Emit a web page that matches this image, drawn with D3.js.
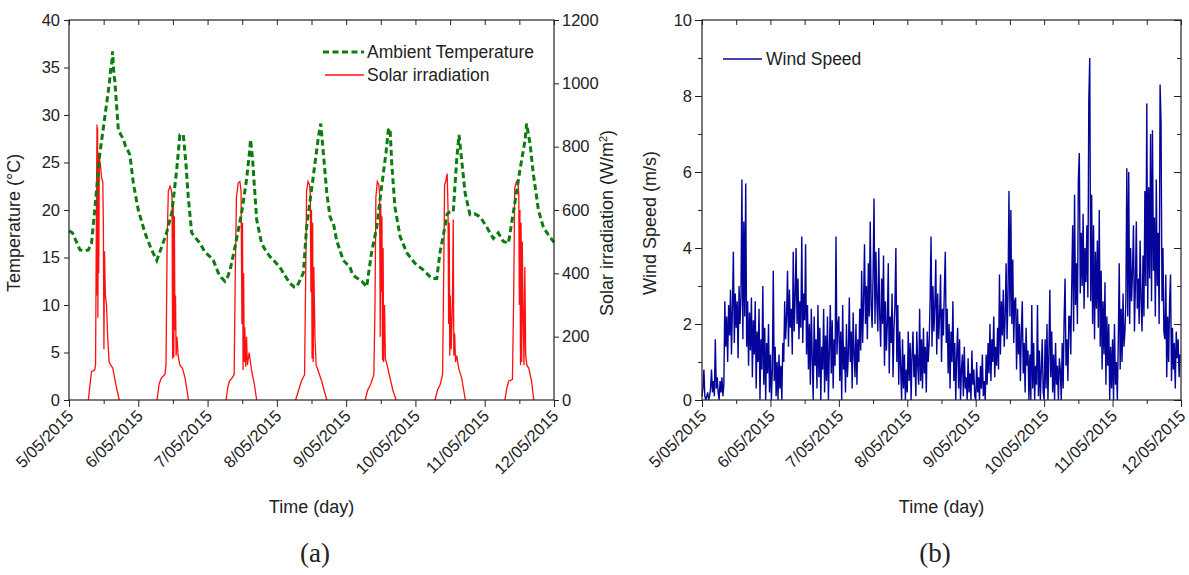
<!DOCTYPE html>
<head>
<meta charset="utf-8">
<title>Ambient temperature, solar irradiation and wind speed, 5-12 May 2015</title>
<style>
  body { margin: 0; background: #fff; }
  svg text { font-family: Arial, "Liberation Sans", sans-serif; fill: #222; }
</style>
</head>
<body>
<svg width="1189" height="575"></svg>
<script src="https://cdn.jsdelivr.net/npm/d3@7/dist/d3.min.js"></script>
<script>

// x axis: hours from 5/05/2015 00:00, one label per day
var dayLabels = ["5/05/2015", "6/05/2015", "7/05/2015", "8/05/2015",
                 "9/05/2015", "10/05/2015", "11/05/2015", "12/05/2015"];

// ambient temperature (degC), [hour, value]
var tempSeries = [
  [0,17.8],[1.2,17.6],[3.8,15.8],[5.5,15.7],[6.7,15.8],[7.8,16.5],[9.0,20.3],[10.7,26],[12.5,30],
  [14,33.4],[14.5,35],[14.8,35.4],[15.1,36.7],[15.5,34.5],[15.9,33.5],[17.1,28.4],[18.0,27.9],
  [18.8,27.5],[19.6,26.7],[20.5,26.2],[21.1,25.8],[22.3,22.8],[24,20],[26.3,17.6],[28.6,15.8],
  [30.4,14.7],[32.1,16.1],[33.8,17.6],[35.6,19.7],[37.3,24.2],[38.4,27.9],[39.6,27.9],[40.5,24.9],
  [41.3,21.4],[42.5,17.6],[44.0,17.0],[45.4,16.5],[47.0,15.6],[48.8,15.1],[50,14.7],[51.7,13.4],
  [53.0,12.8],[54,12.5],[55.0,13.0],[55.8,13.7],[57.5,16.1],[59.8,19.7],[61.5,23.2],[62.5,26],
  [62.9,27.4],[63.6,25.3],[65,19],[66.7,16.5],[68,15.8],[69.6,15.1],[71.5,14.5],[73,14],[74.8,13.1],
  [76.5,12.3],[78.0,11.9],[78.9,11.9],[80,12.6],[81.2,13.4],[82.3,18.2],[84.6,23.5],[86.4,27.7],
  [87.2,29.1],[88.1,26],[89.3,21.8],[90.4,19.3],[91,18.9],[91.6,18.6],[92.7,16.8],[95,14.7],
  [97.3,14],[98.2,13.2],[99,13],[101.4,12.5],[102.3,12.2],[103.1,11.9],[104.8,15.5],[106.6,18.2],
  [108.3,22.5],[109.8,26],[110.6,28.4],[111.2,28.6],[111.8,24.9],[112.9,20.3],[114.7,17.2],
  [117,15.5],[119.8,14.4],[122.7,13.7],[125.6,12.8],[127.4,12.8],[128.5,15.5],[130.2,18.2],
  [131,19.6],[132,19.8],[133.1,19.8],[134.3,25.3],[135.1,27.9],[136,25.3],[137.2,21.8],[138.9,19.5],
  [140.5,19.6],[142.4,19.3],[144.7,18.2],[146,17.5],[147,17],[148.7,17.6],[150.4,16.7],[152.2,16.5],
  [153.9,19.7],[156.2,24.2],[158,27.4],[158.5,29.1],[159.7,27],[160.8,23.9],[162.6,20],[164.3,18.2],
  [166,17.4],[168,16.6]
];

// solar irradiation (W/m2), one [hour, value] list per day
var solarDays = [
  [[6.7,0],[7.3,50],[7.8,90],[8.3,92],[8.9,95],[9.2,110],[9.5,600],[9.7,870],[9.8,330],[9.9,860],
   [10.0,260],[10.2,780],[10.3,400],[10.5,765],[10.9,740],[11.3,700],[11.7,690],[11.9,560],[12.1,160],
   [12.3,470],[12.6,330],[13.0,300],[13.4,200],[13.9,120],[14.5,110],[15.2,100],[16.2,50],[17.4,0]],
  [[30.5,0],[31.2,50],[32.0,70],[33.2,80],[33.6,110],[34.0,500],[34.4,660],[35.0,675],[35.4,665],
   [35.7,640],[35.9,130],[36.1,610],[36.3,135],[36.5,580],[36.7,220],[36.9,330],[37.1,140],[37.4,200],
   [37.8,140],[38.4,110],[39.3,100],[40.2,70],[41.4,0]],
  [[54.4,0],[55.0,40],[55.6,60],[56.5,70],[57.2,80],[57.6,400],[58.0,640],[58.6,685],[59.2,690],
   [59.6,660],[59.9,240],[60.1,560],[60.3,95],[60.5,400],[60.7,120],[60.9,230],[61.2,105],[61.5,200],
   [61.8,110],[62.4,150],[63.3,90],[64.2,50],[65.0,0]],
  [[78.5,0],[79.5,30],[80.5,60],[81.6,80],[82.0,400],[82.3,660],[82.8,690],[83.3,680],[83.6,650],
   [83.8,340],[84.0,600],[84.2,130],[84.4,560],[84.6,120],[84.8,420],[85.2,200],[85.6,110],[86.4,90],
   [87.5,60],[88.4,30],[89.3,0]],
  [[102.6,0],[103.4,30],[104.5,50],[105.6,80],[106.0,300],[106.3,640],[106.8,690],[107.3,680],
   [107.6,650],[107.8,200],[108.0,620],[108.2,340],[108.4,580],[108.6,125],[108.8,480],[109.0,120],
   [109.3,300],[109.6,130],[110.2,110],[111.2,70],[112.2,30],[113.3,0]],
  [[126.8,0],[127.6,30],[128.6,50],[129.4,80],[129.8,400],[130.1,680],[130.5,690],[131.0,715],
   [131.3,600],[131.5,240],[131.7,560],[131.9,140],[132.1,330],[132.4,160],[132.8,300],[133.1,570],
   [133.3,140],[133.6,210],[133.9,120],[134.3,140],[135.0,100],[136.0,70],[137.3,0]],
  [[151.0,0],[151.6,35],[152.3,60],[153.0,62],[153.6,65],[154.0,300],[154.4,670],[155.0,690],
   [155.5,685],[155.8,650],[156.0,300],[156.2,600],[156.4,110],[156.6,560],[156.8,120],[157.0,500],
   [157.3,280],[157.6,110],[157.9,420],[158.2,140],[158.6,110],[159.3,100],[160.2,60],[161.0,0]]
];

// wind speed (m/s), one reading every 20 minutes (72 per day)
var windStep = 1 / 3;
var windSpeed = [
  // 5/05
  0.1,0.3,0.8,0.1,0.0,0.1,0.2,0.0,0.1,0.3,0.8,0.2,0.5,0.1,1.6,0.3,0.6,0.2,0.0,0.5,0.2,0.6,0.1,0.4,
  2.6,1.4,2.2,1.0,2.5,1.7,2.9,1.2,2.4,3.9,1.5,2.8,1.9,2.6,1.1,3.0,2.0,2.7,5.8,1.6,4.7,2.2,5.7,
  1.4,2.6,0.9,2.3,1.3,2.7,0.6,2.1,1.2,2.6,0.3,1.8,1.0,2.4,0.0,1.6,0.8,3.0,0.4,1.9,0.0,1.5,0.7,2.0,0.2,
  // 6/05
  1.2,0.0,0.8,3.4,0.5,1.4,0.1,1.0,0.0,1.2,0.3,0.9,0.0,1.5,
  1.0,2.6,1.6,2.2,3.4,1.4,2.9,1.9,2.4,1.2,3.9,1.8,2.7,4.0,2.0,3.2,1.6,2.6,1.9,4.3,1.5,2.8,2.1,
  4.1,1.2,2.5,0.8,2.0,0.4,2.4,1.1,0.0,2.2,0.9,1.6,0.3,2.5,0.6,1.9,0.0,1.4,0.8,2.4,0.2,1.7,0.5,2.2,0.0,1.3,
  2.5,0.7,2.1,0.3,1.6,0.9,4.3,1.2,2.0,
  // 7/05
  2.2,0.5,1.8,0.0,2.5,0.8,1.4,0.2,2.0,0.6,1.2,2.7,1.0,1.8,0.3,2.3,1.2,0.6,2.0,0.4,1.6,1.0,2.4,1.3,
  3.4,1.5,2.6,4.1,2.0,3.0,1.6,3.6,2.2,4.7,2.5,1.9,3.3,5.3,2.0,3.9,2.6,1.8,4.0,2.2,1.4,3.2,2.0,
  3.8,0.9,2.6,1.3,2.0,3.6,0.7,2.2,1.5,2.8,0.6,1.9,2.5,4.0,1.0,2.5,0.4,1.8,0.9,0.0,1.6,0.3,1.2,0.0,0.8,
  // 8/05
  0.2,1.8,0.5,1.5,0.0,1.2,1.8,0.6,1.2,0.1,1.8,0.9,0.4,2.4,0.5,1.6,0.3,1.9,0.7,1.4,0.2,1.8,1.0,1.5,
  2.6,4.3,1.4,3.0,1.8,2.5,3.7,1.2,2.8,1.6,2.2,3.3,1.0,2.4,1.7,2.9,3.9,1.5,
  2.4,0.7,2.0,0.3,1.8,1.0,2.6,0.5,1.5,0.0,1.2,1.9,0.3,1.6,0.0,0.8,1.2,0.1,1.4,0.3,0.6,0.0,1.1,0.2,0.7,0.0,1.3,0.4,0.8,0.1,
  // 9/05
  0.0,1.0,0.2,0.6,0.0,0.9,0.3,1.2,0.1,0.5,0.0,
  1.2,0.4,1.5,0.7,2.0,0.5,1.6,1.0,2.2,0.6,1.4,0.9,1.9,0.8,
  3.3,1.2,2.6,1.7,2.9,1.4,2.2,3.6,1.6,2.8,5.5,2.2,5.0,2.0,3.7,1.5,2.6,
  2.7,0.8,2.4,1.2,2.0,0.5,1.8,2.6,0.7,1.5,0.2,1.9,0.9,1.3,0.0,
  1.2,0.0,2.5,0.3,1.5,0.0,0.9,0.4,2.5,0.1,1.3,0.0,0.8,1.6,0.2,
  // 10/05
  0.0,1.6,0.3,2.0,0.0,1.2,2.9,0.6,1.8,0.2,1.2,0.0,1.5,0.4,0.9,0.0,1.1,
  0.8,0.0,1.5,0.3,2.1,3.2,0.9,1.6,0.5,2.2,
  2.2,1.2,3.0,4.6,1.8,5.4,2.5,3.6,2.0,5.8,6.5,2.8,4.4,3.0,4.9,2.4,4.0,3.1,4.6,2.7,
  7.9,9.0,2.6,5.4,2.0,4.6,1.6,3.9,2.4,4.2,1.9,
  5.0,1.4,3.4,0.8,2.6,1.2,3.1,0.4,2.2,0.9,2.0,0.0,1.4,0.3,
  // 11/05
  1.6,0.0,2.0,0.4,1.0,0.0,1.5,3.6,0.8,2.4,1.0,2.8,1.4,
  1.8,2.6,6.1,2.2,6.0,2.0,4.0,2.6,3.4,4.6,1.8,3.0,4.7,2.4,3.2,2.0,4.2,2.6,1.8,3.8,2.2,5.5,
  3.0,7.8,2.4,5.6,3.2,7.0,2.6,7.1,3.4,4.8,2.2,5.8,3.0,4.4,2.0,8.3,7.3,2.6,4.0,1.8,
  1.6,3.3,0.6,2.2,1.0,2.6,3.3,0.5,1.9,0.8,1.5,0.3,1.8,1.1,1.6,0.6,1.2
];

var svg = d3.select("svg");
var ink = "#222";

var dayTicks = d3.range(0, 169, 24),
    halfTicks = d3.range(12, 168, 24),
    allHalf = d3.range(0, 169, 12);

function styleAxis(g) {
  g.attr("font-size", 16.5).attr("font-family", null).attr("color", ink);
  g.select(".domain").remove();
}

// frame + time axis shared by both panels
function timeFrame(x, box) {
  svg.append("rect")
    .attr("x", box.left).attr("y", box.top)
    .attr("width", box.right - box.left).attr("height", box.bottom - box.top)
    .attr("fill", "none").attr("stroke", ink).attr("stroke-width", 1.2);

  svg.append("g").attr("transform", "translate(0," + box.bottom + ")")
    .call(d3.axisBottom(x).tickValues(halfTicks).tickSize(4).tickFormat(""))
    .call(styleAxis);

  var bottom = svg.append("g").attr("transform", "translate(0," + box.bottom + ")")
    .call(d3.axisBottom(x).tickValues(dayTicks).tickSize(7)
      .tickFormat(function(d) { return dayLabels[d / 24]; }))
    .call(styleAxis);
  bottom.selectAll("text")
    .attr("x", 0).attr("y", 0).attr("dy", "0.35em")
    .attr("text-anchor", "end")
    .attr("transform", "translate(1,13) rotate(-45)");

  svg.append("g").attr("transform", "translate(0," + box.top + ")")
    .call(d3.axisTop(x).tickValues(allHalf).tickSize(-5).tickFormat(""))
    .call(styleAxis);

  svg.append("text")
    .attr("x", (box.left + box.right) / 2).attr("y", 513)
    .attr("text-anchor", "middle").attr("font-size", 18)
    .text("Time (day)");
}

function yTitle(x, y, label, sup) {
  var t = svg.append("text")
    .attr("transform", "translate(" + x + "," + y + ") rotate(-90)")
    .attr("text-anchor", "middle").attr("font-size", 18)
    .text(label);
  if (sup) {
    t.append("tspan").attr("baseline-shift", "super").attr("font-size", 11).text(sup);
    t.append("tspan").text(")");
  }
}

function panelTag(x, label) {
  svg.append("text")
    .attr("x", x).attr("y", 562)
    .attr("text-anchor", "middle")
    .style("font-family", "'Liberation Serif', 'Times New Roman', serif")
    .attr("font-size", 27)
    .text(label);
}

// ---------- (a) temperature + solar irradiation ----------
var boxA = {left: 69, right: 554, top: 20, bottom: 400};
var xA = d3.scaleLinear().domain([0, 168]).range([boxA.left, boxA.right]);
var yTemp = d3.scaleLinear().domain([0, 40]).range([boxA.bottom, boxA.top]);
var ySolar = d3.scaleLinear().domain([0, 1200]).range([boxA.bottom, boxA.top]);

var solarLine = d3.line().x(function(d) { return xA(d[0]); }).y(function(d) { return ySolar(d[1]); });
svg.append("g").selectAll("path").data(solarDays).enter().append("path")
  .attr("d", solarLine)
  .attr("fill", "none").attr("stroke", "#ff1010").attr("stroke-width", 1.3);

var tempLine = d3.line().x(function(d) { return xA(d[0]); }).y(function(d) { return yTemp(d[1]); });
svg.append("path").datum(tempSeries)
  .attr("d", tempLine)
  .attr("fill", "none").attr("stroke", "#0c7c0c").attr("stroke-width", 3)
  .attr("stroke-dasharray", "6,3.5");

svg.append("g").attr("transform", "translate(" + boxA.left + ",0)")
  .call(d3.axisLeft(yTemp).tickValues(d3.range(0, 41, 5)).tickSize(5).tickPadding(4))
  .call(styleAxis);
svg.append("g").attr("transform", "translate(" + boxA.right + ",0)")
  .call(d3.axisRight(ySolar).tickValues(d3.range(0, 1201, 200)).tickSize(5).tickPadding(3)
    .tickFormat(d3.format("d")))
  .call(styleAxis);
timeFrame(xA, boxA);

yTitle(20, 223, "Temperature (\u00B0C)");
yTitle(613, 223, "Solar irradiation (W/m", "2");

// legend (a)
var legA = svg.append("g");
legA.append("line").attr("x1", 323).attr("x2", 364).attr("y1", 52).attr("y2", 52)
  .attr("stroke", "#0c7c0c").attr("stroke-width", 3).attr("stroke-dasharray", "6,3.5");
legA.append("text").attr("x", 367).attr("y", 58).attr("font-size", 17.5).text("Ambient Temperature");
legA.append("line").attr("x1", 325).attr("x2", 364).attr("y1", 75).attr("y2", 75)
  .attr("stroke", "#ff1010").attr("stroke-width", 1.3);
legA.append("text").attr("x", 367).attr("y", 81).attr("font-size", 17.5).text("Solar irradiation");

panelTag(315, "(a)");

// ---------- (b) wind speed ----------
var boxB = {left: 702, right: 1181, top: 20, bottom: 400};
var xB = d3.scaleLinear().domain([0, 168]).range([boxB.left, boxB.right]);
var yWind = d3.scaleLinear().domain([0, 10]).range([boxB.bottom, boxB.top]);

var windLine = d3.line().x(function(d, i) { return xB(i * windStep); }).y(function(d) { return yWind(d); });
svg.append("path").datum(windSpeed)
  .attr("d", windLine)
  .attr("fill", "none").attr("stroke", "#04049a").attr("stroke-width", 1.4)
  .attr("stroke-linejoin", "miter").attr("stroke-miterlimit", 2);

svg.append("g").attr("transform", "translate(" + boxB.left + ",0)")
  .call(d3.axisLeft(yWind).tickValues(d3.range(1, 10, 2)).tickSize(4).tickFormat(""))
  .call(styleAxis);
svg.append("g").attr("transform", "translate(" + boxB.left + ",0)")
  .call(d3.axisLeft(yWind).tickValues(d3.range(0, 11, 2)).tickSize(7).tickPadding(3))
  .call(styleAxis);
svg.append("g").attr("transform", "translate(" + boxB.right + ",0)")
  .call(d3.axisRight(yWind).tickValues(d3.range(1, 10, 2)).tickSize(-4).tickFormat(""))
  .call(styleAxis);
svg.append("g").attr("transform", "translate(" + boxB.right + ",0)")
  .call(d3.axisRight(yWind).tickValues(d3.range(0, 11, 2)).tickSize(-7).tickFormat(""))
  .call(styleAxis);
timeFrame(xB, boxB);

yTitle(656, 223, "Wind Speed (m/s)");

var legB = svg.append("g");
legB.append("line").attr("x1", 723).attr("x2", 762).attr("y1", 59).attr("y2", 59)
  .attr("stroke", "#04049a").attr("stroke-width", 1.3);
legB.append("text").attr("x", 766).attr("y", 65).attr("font-size", 17.5).text("Wind Speed");

panelTag(935, "(b)");

</script>
</body>
